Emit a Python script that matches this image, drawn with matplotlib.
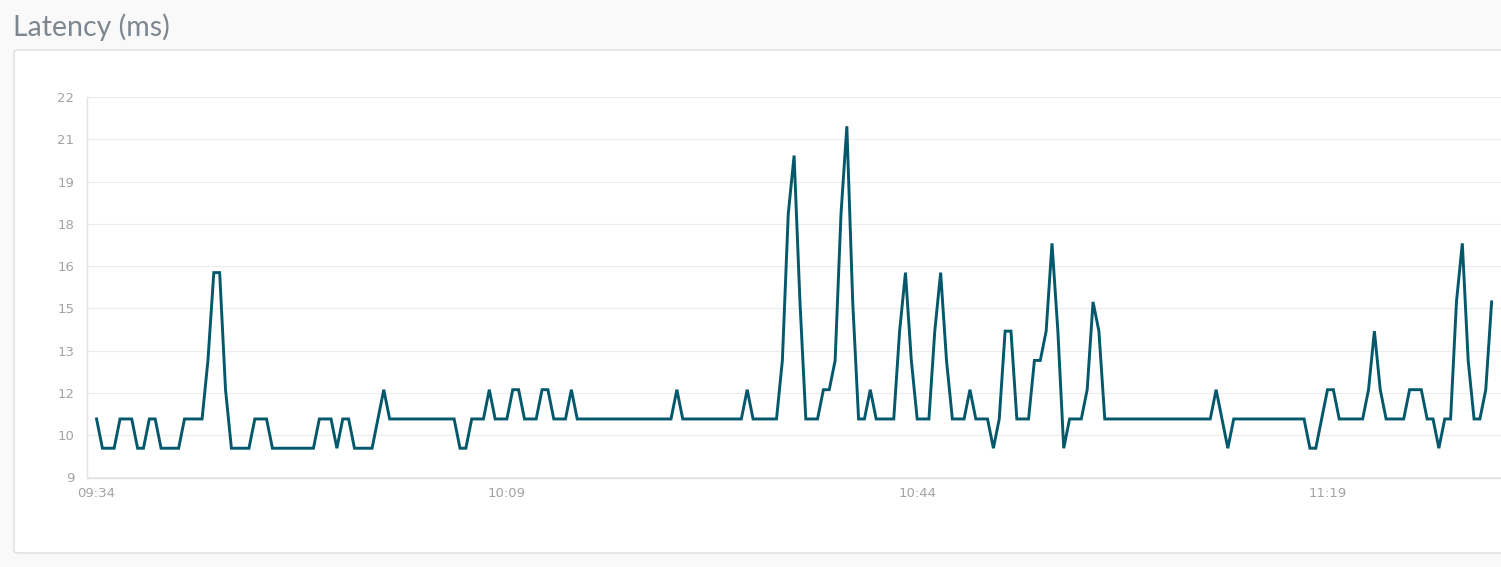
import matplotlib
matplotlib.use("Agg")
import matplotlib.pyplot as plt
import numpy as np
import pandas as pd
from matplotlib.patches import FancyBboxPatch

# Latency samples (ms), one every 30 seconds starting 09:34
latency = [
    11, 10, 10, 10, 11, 11, 11, 10, 10, 11, 11, 10, 10, 10, 10, 11, 11, 11, 11, 13,
    16, 16, 12, 10, 10, 10, 10, 11, 11, 11, 10, 10, 10, 10, 10, 10, 10, 10, 11, 11,
    11, 10, 11, 11, 10, 10, 10, 10, 11, 12, 11, 11, 11, 11, 11, 11, 11, 11, 11, 11,
    11, 11, 10, 10, 11, 11, 11, 12, 11, 11, 11, 12, 12, 11, 11, 11, 12, 12, 11, 11,
    11, 12, 11, 11, 11, 11, 11, 11, 11, 11, 11, 11, 11, 11, 11, 11, 11, 11, 11, 12,
    11, 11, 11, 11, 11, 11, 11, 11, 11, 11, 11, 12, 11, 11, 11, 11, 11, 13, 18, 20,
    15, 11, 11, 11, 12, 12, 13, 18, 21, 15, 11, 11, 12, 11, 11, 11, 11, 14, 16, 13,
    11, 11, 11, 14, 16, 13, 11, 11, 11, 12, 11, 11, 11, 10, 11, 14, 14, 11, 11, 11,
    13, 13, 14, 17, 14, 10, 11, 11, 11, 12, 15, 14, 11, 11, 11, 11, 11, 11, 11, 11,
    11, 11, 11, 11, 11, 11, 11, 11, 11, 11, 11, 12, 11, 10, 11, 11, 11, 11, 11, 11,
    11, 11, 11, 11, 11, 11, 11, 10, 10, 11, 12, 12, 11, 11, 11, 11, 11, 12, 14, 12,
    11, 11, 11, 11, 12, 12, 12, 11, 11, 10, 11, 11, 15, 17, 13, 11, 11, 12, 15,
]
start_time = "2024-01-01 09:34"
sample_step = "30s"
tick_labels = ["09:34", "10:09", "10:44", "11:19"]

times = pd.date_range(start_time, periods=len(latency), freq=sample_step)
tick_times = [pd.Timestamp("2024-01-01 " + t) for t in tick_labels]

W, H = 1501, 567
fig = plt.figure(figsize=(W / 100, H / 100), dpi=100)
fig.patch.set_facecolor("#f9f9f9")

# white card behind the chart
card = FancyBboxPatch((14 / W, 14 / H), 1.2, (553 - 50) / H,
                      boxstyle="round,pad=0,rounding_size=0.004",
                      transform=fig.transFigure, facecolor="white",
                      edgecolor="#dddddd", linewidth=1, zorder=-10)
fig.patches.append(card)

fig.text(13 / W, 1 - 27 / H, "Latency (ms)", fontsize=20.5, color="#7d8792",
         ha="left", va="center", family="Lato")

ax = fig.add_axes([87 / W, (H - 477.5) / H, 1 - 87 / W, (477.5 - 97) / H])
ax.set_zorder(5)
ax.set_facecolor("none")
ax.plot(times, latency, color="#03586b", linewidth=2.1, solid_joinstyle="miter")

ax.set_ylim(9, 22)
yt = np.linspace(9, 22, 10)
ax.set_yticks(yt)
ax.set_yticklabels([str(int(round(v))) for v in yt])
ax.set_xlim(times[0] - pd.Timedelta(seconds=49), times[0] + pd.Timedelta(seconds=7188))
ax.set_xticks(tick_times)
ax.set_xticklabels(tick_labels)

ax.grid(axis="y", color="#ececec", linewidth=0.8)
ax.set_axisbelow(True)
for side in ["top", "right"]:
    ax.spines[side].set_visible(False)
for side in ["left", "bottom"]:
    ax.spines[side].set_color("#e2e2e2")
    ax.spines[side].set_linewidth(1)
ax.tick_params(length=0, labelsize=9.5, labelcolor="#a3a3a3")
ax.tick_params(axis="y", pad=9)
ax.tick_params(axis="x", pad=7)

fig.savefig("out.png", dpi=100, facecolor=fig.get_facecolor())
